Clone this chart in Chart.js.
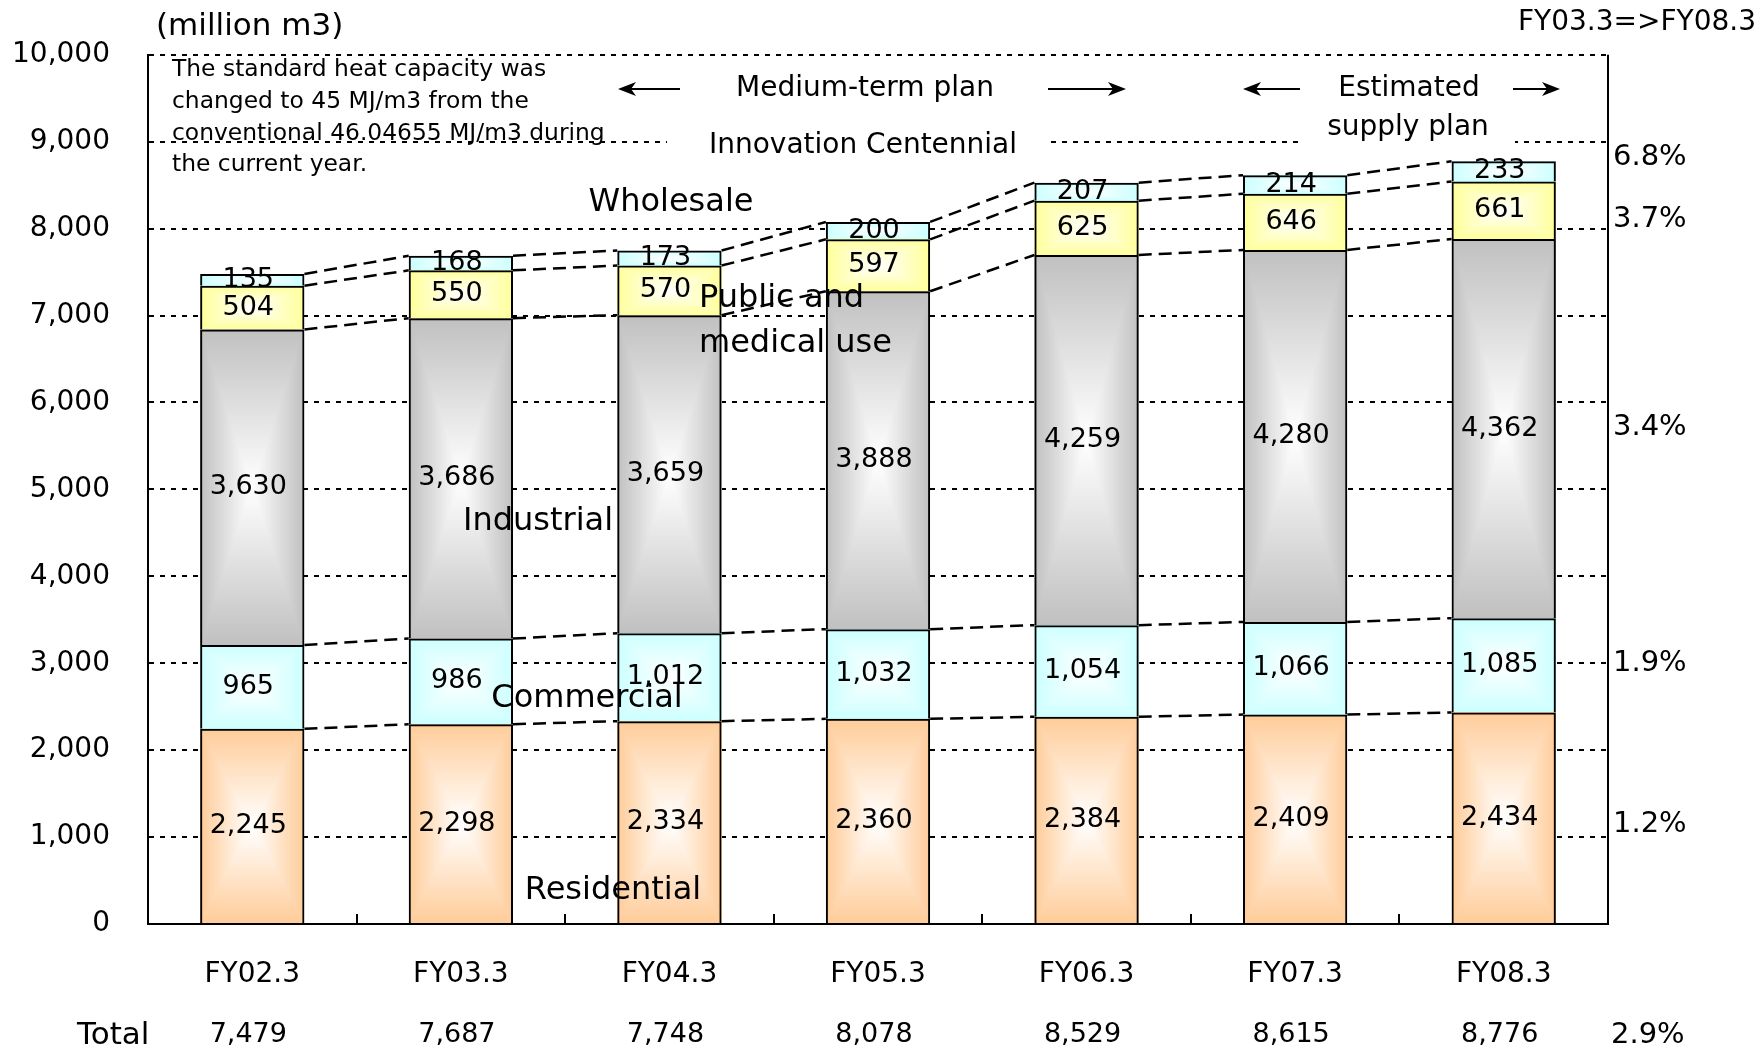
<!DOCTYPE html>
<html>
<head>
<meta charset="utf-8">
<title>Gas sales volume</title>
<script src="https://cdn.jsdelivr.net/npm/chart.js@4.4.1/dist/chart.umd.min.js"></script>
<style>
	html, body { margin: 0; padding: 0; background: #fff; }
	#wrap { position: relative; width: 1762px; height: 1053px; }
</style>
</head>
<body>
<div id="wrap"><canvas id="sales-graph"></canvas></div>
<script>
// sales volume by use (million m3)
var fiscalYears = ['FY02.3', 'FY03.3', 'FY04.3', 'FY05.3', 'FY06.3', 'FY07.3', 'FY08.3'];
var residential = [2245, 2298, 2334, 2360, 2384, 2409, 2434];
var commercial = [965, 986, 1012, 1032, 1054, 1066, 1085];
var industrial = [3630, 3686, 3659, 3888, 4259, 4280, 4362];
var publicMedical = [504, 550, 570, 597, 625, 646, 661];
var wholesale = [135, 168, 173, 200, 207, 214, 233];
var totals = [7479, 7687, 7748, 8078, 8529, 8615, 8776];

var yTickValues = [0, 1000, 2000, 3000, 4000, 5000, 6000, 7000, 8000, 9000, 10000];

// FY03.3 => FY08.3 growth, top to bottom
var growthLabels = ['6.8%', '3.7%', '3.4%', '1.9%', '1.2%'];
var growthAt = [8820, 8100, 5710, 3000, 1150];
var totalGrowth = '2.9%';

var seriesNames = ['Residential', 'Commercial', 'Industrial', 'Public and medical use', 'Wholesale'];
var seriesColors = ['#FFCC99', '#CCFFFF', '#C0C0C0', '#FFFF99', '#CCFFFF'];

var FONT = '"DejaVu Sans"';

function fmt(v)
{
	return v.toLocaleString('en-US');
}

// colour at the edges, white in the middle, rectangular contours
function fillFromCenter(ctx, x0, y0, x1, y1, hex)
{
	x0 = Math.round(x0); y0 = Math.round(y0);
	var w = Math.round(x1) - x0, h = Math.round(y1) - y0;
	if (w < 1 || h < 1) return;
	var r = parseInt(hex.substr(1, 2), 16);
	var g = parseInt(hex.substr(3, 2), 16);
	var b = parseInt(hex.substr(5, 2), 16);
	var off = document.createElement('canvas');
	off.width = w; off.height = h;
	var octx = off.getContext('2d');
	var img = octx.createImageData(w, h);
	var hw = w / 2, hh = h / 2;
	for (var j = 0; j < h; j++) {
		var dy = Math.abs(j + 0.5 - hh) / hh;
		for (var i = 0; i < w; i++) {
			var dx = Math.abs(i + 0.5 - hw) / hw;
			var t = Math.min(1, Math.max(dx, dy));
			var p = (j * w + i) * 4;
			img.data[p] = 255 + (r - 255) * t;
			img.data[p + 1] = 255 + (g - 255) * t;
			img.data[p + 2] = 255 + (b - 255) * t;
			img.data[p + 3] = 255;
		}
	}
	octx.putImageData(img, 0, 0);
	ctx.drawImage(off, x0, y0);
}

function text(ctx, str, x, y, size, align)
{
	ctx.font = size + 'px ' + FONT;
	ctx.textAlign = align || 'center';
	ctx.textBaseline = 'middle';
	ctx.fillStyle = '#000';
	ctx.fillText(str, x, y);
}

function arrow(ctx, xFrom, xTo, y)
{
	var dir = xTo > xFrom ? 1 : -1;
	ctx.save();
	ctx.strokeStyle = '#000';
	ctx.fillStyle = '#000';
	ctx.lineWidth = 2;
	ctx.beginPath();
	ctx.moveTo(xFrom, y);
	ctx.lineTo(xTo - dir * 10, y);
	ctx.stroke();
	ctx.beginPath();
	ctx.moveTo(xTo, y);
	ctx.lineTo(xTo - dir * 18, y - 7);
	ctx.lineTo(xTo - dir * 13, y);
	ctx.lineTo(xTo - dir * 18, y + 7);
	ctx.closePath();
	ctx.fill();
	ctx.restore();
}

var decorPlugin = {
	id: 'decor',
	beforeDatasetsDraw: function(chart)
	{
		var ctx = chart.ctx;
		// white text boxes over the 9,000 line
		ctx.save();
		ctx.fillStyle = '#fff';
		ctx.fillRect(667, 124, 384, 42);
		ctx.fillRect(1300, 62, 215, 86);
		ctx.restore();

		// gradient bodies, borders are drawn by the bars themselves
		chart.data.datasets.forEach(function(ds, k) {
			chart.getDatasetMeta(k).data.forEach(function(bar) {
				fillFromCenter(ctx, bar.x - bar.width / 2, Math.min(bar.y, bar.base),
					bar.x + bar.width / 2, Math.max(bar.y, bar.base), seriesColors[k]);
			});
		});
	},
	afterDatasetsDraw: function(chart)
	{
		var ctx = chart.ctx;
		var n = chart.data.datasets.length;

		// series lines between neighbouring bars
		ctx.save();
		ctx.strokeStyle = '#000';
		ctx.lineWidth = 2.5;
		ctx.setLineDash([13, 7]);
		for (var k = 0; k < n; k++) {
			var bars = chart.getDatasetMeta(k).data;
			for (var i = 0; i < bars.length - 1; i++) {
				ctx.beginPath();
				ctx.moveTo(bars[i].x + bars[i].width / 2, bars[i].y);
				ctx.lineTo(bars[i + 1].x - bars[i + 1].width / 2, bars[i + 1].y);
				ctx.stroke();
			}
		}
		ctx.restore();

		// values inside the segments
		chart.data.datasets.forEach(function(ds, k) {
			chart.getDatasetMeta(k).data.forEach(function(bar, i) {
				text(ctx, fmt(ds.data[i]), bar.x - 4, (bar.y + bar.base) / 2, 27);
			});
		});

		// series names
		text(ctx, 'Wholesale', 671, 203, 32);
		text(ctx, 'Public and', 699, 299, 32, 'left');
		text(ctx, 'medical use', 699, 344, 32, 'left');
		text(ctx, 'Industrial', 538, 522, 32);
		text(ctx, 'Commercial', 587, 699, 32);
		text(ctx, 'Residential', 613, 891, 32);
	},
	afterDraw: function(chart)
	{
		var ctx = chart.ctx;
		var area = chart.chartArea;
		var xs = chart.scales.x, ys = chart.scales.y;

		// right frame
		ctx.save();
		ctx.strokeStyle = '#000';
		ctx.lineWidth = 2;
		ctx.beginPath();
		ctx.moveTo(area.right, area.top);
		ctx.lineTo(area.right, area.bottom);
		ctx.stroke();

		// short ticks between categories
		ctx.beginPath();
		for (var i = 0; i < fiscalYears.length - 1; i++) {
			var bx = Math.round((xs.getPixelForTick(i) + xs.getPixelForTick(i + 1)) / 2);
			ctx.moveTo(bx, area.bottom);
			ctx.lineTo(bx, area.bottom - 10);
		}
		ctx.stroke();
		ctx.restore();

		// growth rates on the right
		growthLabels.forEach(function(g, i) {
			text(ctx, g, 1613, ys.getPixelForValue(growthAt[i]), 29, 'left');
		});

		// totals row
		text(ctx, 'Total', 77, 1036, 31, 'left');
		totals.forEach(function(t, i) {
			text(ctx, fmt(t), xs.getPixelForTick(i) - 4, 1035, 27);
		});
		text(ctx, totalGrowth, 1611, 1035, 29, 'left');

		// headings
		text(ctx, '(million m3)', 156, 27, 31, 'left');
		text(ctx, 'FY03.3=>FY08.3', 1756, 23, 28, 'right');

		var note = ['The standard heat capacity was',
			'changed to 45 MJ/m3 from the',
			'conventional 46.04655 MJ/m3 during',
			'the current year.'];
		note.forEach(function(line, i) {
			text(ctx, line, 172, 70 + i * 31.8, 23.4, 'left');
		});

		text(ctx, 'Medium-term plan', 865, 89, 28);
		arrow(ctx, 680, 618, 89);
		arrow(ctx, 1048, 1126, 89);
		text(ctx, 'Innovation Centennial', 863, 146, 28);

		text(ctx, 'Estimated', 1409, 89, 28);
		text(ctx, 'supply plan', 1408, 128, 28);
		arrow(ctx, 1300, 1243, 89);
		arrow(ctx, 1513, 1560, 89);
	}
};

Chart.defaults.font.family = FONT;
Chart.defaults.color = '#000';

var datasets = [residential, commercial, industrial, publicMedical, wholesale].map(function(values, k) {
	return {
		label: seriesNames[k],
		data: values,
		backgroundColor: 'rgba(0,0,0,0)',
		borderColor: '#000',
		borderWidth: 2,
		borderSkipped: 'start',
		categoryPercentage: 1,
		barPercentage: 0.5
	};
});

var ctx = document.getElementById('sales-graph').getContext('2d');

var salesChart = new Chart(ctx, {
	type: 'bar',
	data: {
		labels: fiscalYears,
		datasets: datasets
	},
	options: {
		responsive: true,
		maintainAspectRatio: false,
		animation: false,
		layout: { padding: { left: 0, top: 49, right: 154, bottom: 0 } },
		plugins: {
			legend: { display: false },
			tooltip: { enabled: false }
		},
		scales: {
			x: {
				stacked: true,
				grid: { display: false },
				border: { display: true, color: '#000', width: 2, z: 1 },
				ticks: { font: { size: 28 }, padding: 26, maxRotation: 0, autoSkip: false },
				afterFit: function(scale) { scale.height = 129; }
			},
			y: {
				stacked: true,
				min: 0,
				max: 10000,
				afterBuildTicks: function(scale) {
					scale.ticks = yTickValues.map(function(v) { return { value: v }; });
				},
				grid: { color: '#000', lineWidth: 2, drawTicks: false },
				border: { display: true, color: '#000', width: 2, dash: [5, 6] },
				ticks: {
					font: { size: 28 },
					padding: 38,
					callback: function(v) { return fmt(v); }
				},
				afterFit: function(scale) { scale.width = 148; }
			}
		}
	},
	plugins: [decorPlugin]
});
</script>
</body>
</html>
